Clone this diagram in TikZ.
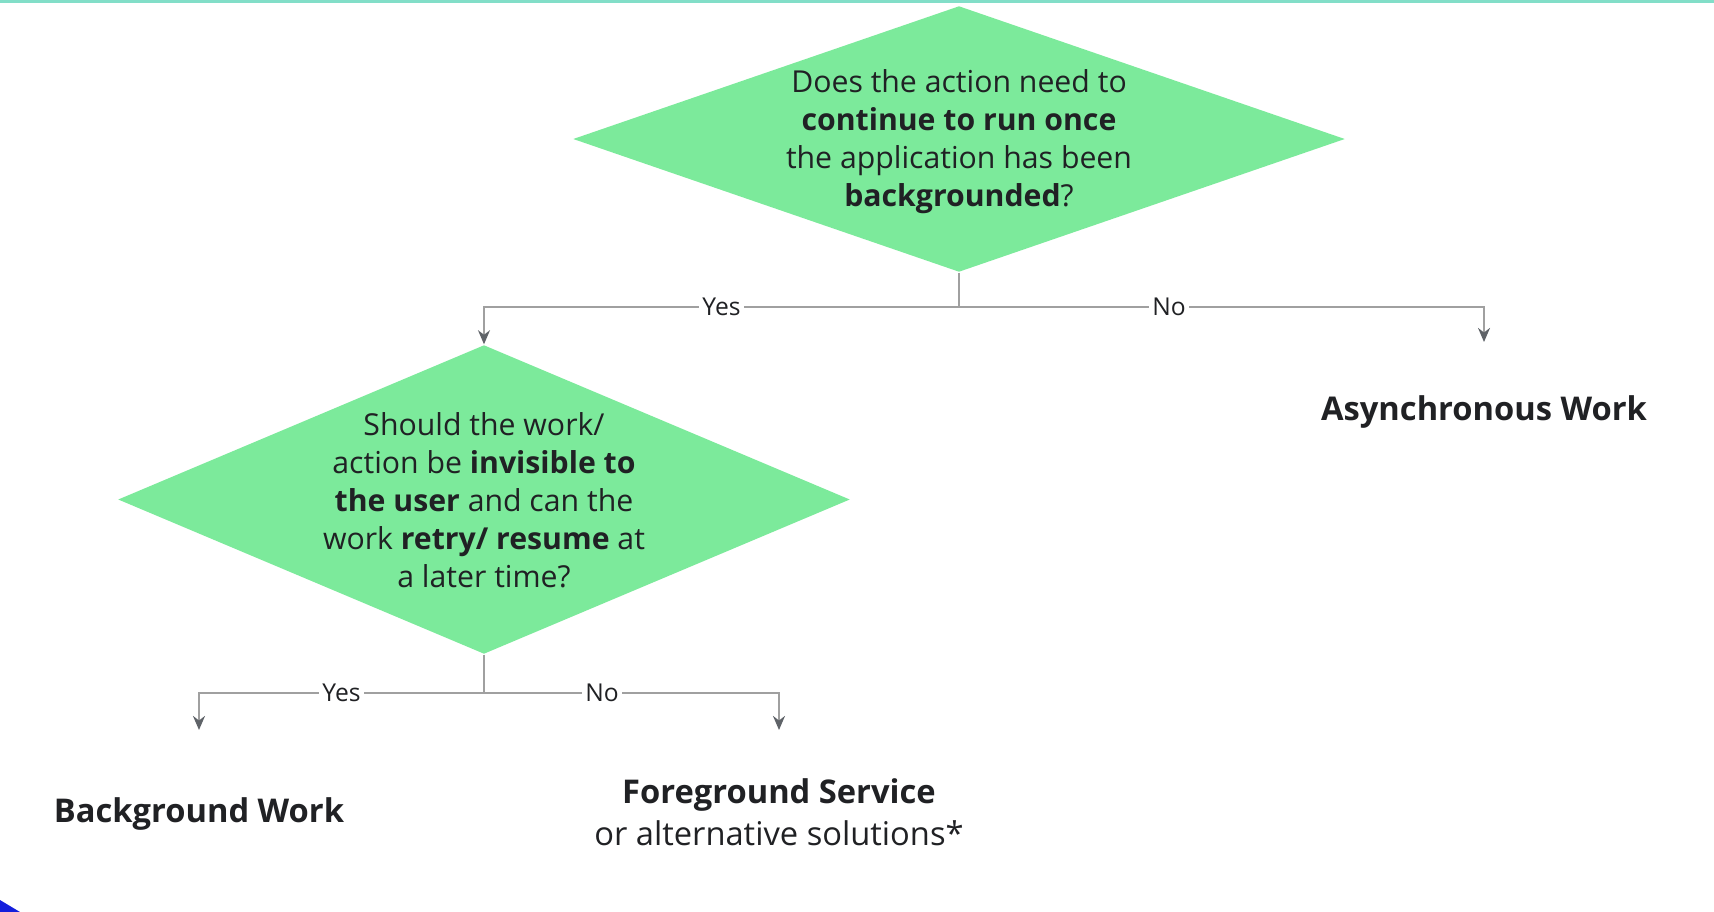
\documentclass[tikz,border=0pt]{standalone}
\usepackage{fontspec}
\setmainfont{Open Sans}
\usetikzlibrary{shapes.geometric, arrows.meta, positioning}

\definecolor{decgreen}{RGB}{124,234,155}
\definecolor{linegray}{RGB}{160,160,160}
\definecolor{tipgray}{RGB}{95,99,104}
\definecolor{inkgray}{RGB}{32,33,36}
\definecolor{topteal}{RGB}{130,222,200}
\definecolor{cornerblue}{RGB}{20,30,220}

\tikzset{
  decision/.style = {diamond, fill=decgreen, draw=none, inner sep=0pt},
  question/.style = {align=center, text=inkgray, font=\fontsize{8.6}{10.8}\selectfont},
  outcome/.style  = {align=center, text=inkgray, font=\fontsize{9.3}{11.4}\selectfont\bfseries},
  branch/.style   = {fill=white, text=inkgray, inner sep=1pt, font=\fontsize{7}{8}\selectfont},
  flow/.style     = {draw=linegray, line width=0.6pt, -{Stealth[length=4pt, width=3.4pt, color=tipgray]}},
  stem/.style     = {draw=linegray, line width=0.6pt}
}

\begin{document}
\begin{tikzpicture}
  \useasboundingbox [fill=white] (0,0) rectangle (17.14,-9.12);
  \fill [topteal] (0,0) rectangle (17.14,-0.03);
  \fill [cornerblue] (0,-9.00) -- (0.2,-9.12) -- (0,-9.12) -- cycle;

  % decisions
  \node (d1) [decision, minimum width=7.72cm, minimum height=2.66cm] at (9.59,-1.39) {};
  \node (d1text) [question] at (9.59,-1.42)
    {Does the action need to\\\textbf{continue to run once}\\the application has been\\\textbf{backgrounded}?};
  \node (d2) [decision, minimum width=7.32cm, minimum height=3.09cm] at (4.84,-4.995) {};
  \node (d2text) [question] at (4.84,-5.00)
    {Should the work/\\action be \textbf{invisible to}\\\textbf{the user} and can the\\work \textbf{retry/ resume} at\\a later time?};

  % outcomes
  \node (async) [outcome] at (14.84,-4.12) {Asynchronous Work};
  \node (bg) [outcome] at (1.99,-8.14) {Background Work};
  \node (fg) [outcome] at (7.79,-8.12)
    {Foreground Service\\[0.5pt]\mdseries or alternative solutions*};

  \coordinate (j1) at (9.59,-3.07);
  \coordinate (j2) at (4.84,-6.93);
  \coordinate (asyncin) at (14.84,-3.42);
  \coordinate (bgin) at (1.99,-7.30);
  \coordinate (fgin) at (7.79,-7.30);

  \path [stem] (d1.south) -- (j1);
  \path [flow] (j1) -| node [branch, pos=0.25] {Yes} (d2.north);
  \path [flow] (j1) -| node [branch, pos=0.2] {No} (asyncin);

  \path [stem] (d2.south) -- (j2);
  \path [flow] (j2) -| node [branch, pos=0.25] {Yes} (bgin);
  \path [flow] (j2) -| node [branch, pos=0.2] {No} (fgin);
\end{tikzpicture}
\end{document}
